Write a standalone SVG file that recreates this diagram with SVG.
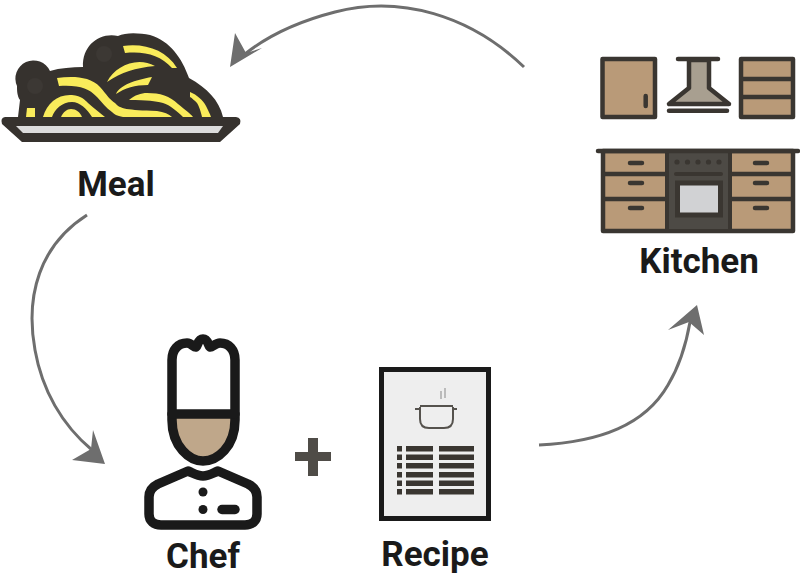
<svg xmlns="http://www.w3.org/2000/svg" width="800" height="578" viewBox="0 0 800 578">
<style>
.lbl{font-family:Roboto,"Liberation Sans",sans-serif;font-weight:700;font-size:35px;fill:#1a1a1a;text-anchor:middle}
.conn{fill:none;stroke:#6e6e6e;stroke-width:3}
.head{fill:#6e6e6e}
.k{stroke:#3a3631;stroke-width:4.5;fill:#b99a78;stroke-linejoin:round}
.kl{stroke:#3a3631;stroke-width:4.5;fill:none;stroke-linecap:round}
.y{fill:#f9ec5b}
.c{stroke:#1a1a1a;stroke-width:9.500;fill:none;stroke-linejoin:round;stroke-linecap:round}
.row{fill:#3a3631}
</style>
<g id="connectors">
<path class="conn" d="M524 67C470 15 400-5 335 12C300 21 270 34 245 54"/>
<path class="head" d="M230 67L235 33L246 53L262 48Z"/>
<path class="conn" d="M87 215C40 245 25 295 35 350C42 390 62 425 92 450"/>
<path class="head" d="M105 464L72 460L91 449L93 430Z"/>
<path class="conn" d="M539 445C600 442 645 425 668 385C680 365 686 345 690 322"/>
<path class="head" d="M697 305L704 335L689 322L668 330Z"/>
</g>
<g id="meal">
<path fill="#36322e" d="M18 117L20 100C17 96 17 90 17 86A18 18 0 0 1 50 71C60 68 72 67 83 67C82 45 100 32 118 36C126 32 140 33 150 35C170 41 182 58 189 78C207 88 219 100 223 117H236Q242 118 240 124L220 142H22L2 124Q0 118 5 117Z"/>
<path fill="#dcdcdc" d="M16 126H223L218 133H23Z"/>
<circle cx="35" cy="86" r="8" fill="#3c3834"/>
<circle cx="104" cy="54" r="8" fill="#3c3834"/>
<path class="y" d="M123 46C145 43 166 50 177 68L172 68C160 55 145 51 125 53Z"/>
<path class="y" d="M107 82C115 66 137 56 155 66C135 68 122 72 107 82Z"/>
<path class="y" d="M116 94C120 85 135 80 152 77L148 85C135 85 125 88 116 94Z"/>
<path class="y" d="M57 78C72 76 90 76 100 87C107 95 110 100 115 103C120 109 127 110 157 111C164 112 169 114 172 117H123C117 116 114 114 112 112C106 108 102 102 97 97C88 88 80 85 59 86Z"/>
<path class="y" d="M43 117C47 103 58 94 72 95C82 96 85 100 88 103C95 109 100 113 105 117H92C87 109 80 102 72 102C62 102 55 109 52 117Z"/>
<path class="y" d="M61 117C63 112 67 109 71 109C76 109 80 112 82 117Z"/>
<path class="y" d="M27 108H35V117H26Z"/>
<path class="y" d="M129 100C135 95 141 93 147 93C160 93 170 96 178 104C185 110 190 113 193 117H183C178 112 170 105 163 103C155 101 148 100 129 100Z"/>
<path class="y" d="M190 92C197 95 203 100 206 106C208 110 210 114 211 117H202C201 112 199 106 197 103C195 101 192 98 190 97Z"/>
<text class="lbl" x="116" y="196">Meal</text>
</g>
<g id="kitchen">
<rect class="k" x="602.500" y="59" width="52.500" height="58"/>
<path class="kl" d="M645.700 96V106"/>
<path class="kl" d="M678 59H718"/>
<path d="M689 60V88L669 104H729L709 88V60Z" fill="#a89f90" stroke="#3a3631" stroke-width="4.500" stroke-linejoin="round"/>
<path class="kl" d="M669 110.700H727"/>
<rect class="k" x="741" y="59" width="52" height="58"/>
<path class="kl" d="M741 79H793M741 97H793" style="stroke-linecap:butt"/>
<rect class="k" x="603" y="151" width="190" height="80"/>
<rect x="667" y="151" width="63" height="80" fill="#4d4a45" stroke="#3a3631" stroke-width="4"/>
<path class="kl" d="M598 151H798"/>
<path class="kl" d="M603 174H667M603 199H667M730 174H793M730 199H793" style="stroke-linecap:butt"/>
<path class="kl" d="M630 163H642M630 183H642M630 208H642M755 163H767M755 183H767M755 208H767"/>
<g fill="#3a3631"><circle cx="677" cy="162" r="2.600"/><circle cx="687.500" cy="162" r="2.600"/><circle cx="698" cy="162" r="2.600"/><circle cx="708.500" cy="162" r="2.600"/><circle cx="719" cy="162" r="2.600"/></g>
<path class="kl" d="M676 174H721" style="stroke-width:4"/>
<rect x="677.500" y="183" width="43" height="32" fill="#d1d2d4" stroke="#3a3631" stroke-width="5"/>
<text class="lbl" x="699" y="273">Kitchen</text>
</g>
<g id="chef">
<path d="M172 414V420C172 447 190 461 203 461C217 461 235 447 235 420V414Z" fill="#bfa78a"/>
<path class="c" d="M172 414V420C172 447 190 461 203 461C217 461 235 447 235 420V414"/>
<path class="c" d="M172 414V360C172 350 178 343 187 343C192 343 194 348 196 347C198 345 198 339 203 339C208 339 208 345 210 347C212 348 215 343 220 343C229 343 235 350 235 360V414Z"/>
<path class="c" d="M188 471C193 473 197 476 203 476C209 476 213 473 218 471L248 484C254 487 257 491 257 497V514C257 521 252 525 245 525H161C154 525 149 521 149 514V497C149 491 152 487 158 484Z"/>
<circle cx="203" cy="492" r="4.500" fill="#1a1a1a"/>
<circle cx="203" cy="509.500" r="4.500" fill="#1a1a1a"/>
<path class="c" d="M222 509.500H235"/>
<text class="lbl" x="203" y="568">Chef</text>
</g>
<g id="plus">
<path fill="#4f4c47" d="M308 438H318V452H331V461H318V476H308V461H295V452H308Z"/>
</g>
<g id="recipe">
<rect x="381.500" y="369.500" width="107" height="149" fill="#eeeeee" stroke="#1a1a1a" stroke-width="5"/>
<path d="M420 407V419Q420 428 429 428H444Q453 428 453 419V407M415 409H420M453 409H457M420 406H453" fill="none" stroke="#55524d" stroke-width="2"/>
<path d="M441 399V391M445 398V388" fill="none" stroke="#bbb" stroke-width="2"/>
<g class="row">
<rect x="397" y="446" width="5" height="5.500"/><rect x="406" y="446" width="27" height="5.500"/><rect x="439" y="446" width="35" height="5.500"/>
<rect x="397" y="454.500" width="5" height="5.500"/><rect x="406" y="454.500" width="27" height="5.500"/><rect x="439" y="454.500" width="35" height="5.500"/>
<rect x="397" y="463" width="5" height="5.500"/><rect x="406" y="463" width="27" height="5.500"/><rect x="439" y="463" width="35" height="5.500"/>
<rect x="397" y="472" width="5" height="5.500"/><rect x="406" y="472" width="27" height="5.500"/><rect x="439" y="472" width="35" height="5.500"/>
<rect x="397" y="480.500" width="5" height="5.500"/><rect x="406" y="480.500" width="27" height="5.500"/><rect x="439" y="480.500" width="35" height="5.500"/>
<rect x="397" y="489" width="5" height="5.500"/><rect x="406" y="489" width="27" height="5.500"/><rect x="439" y="489" width="35" height="5.500"/>
</g>
<text class="lbl" x="435" y="566">Recipe</text>
</g>
</svg>
